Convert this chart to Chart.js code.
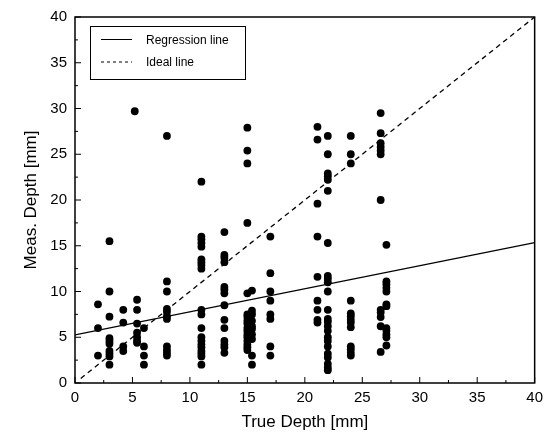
<!DOCTYPE html>
<html>
<head>
<meta charset="utf-8">
<script src="https://cdn.jsdelivr.net/npm/chart.js@4/dist/chart.umd.min.js"></script>
<style>
  html, body { margin: 0; padding: 0; background: #fff; }
  #wrap { width: 549px; height: 440px; }
</style>
</head>
<body>
<div id="wrap"><canvas id="c" width="549" height="440"></canvas></div>
<script>
// ---- Data ----
const xAxisTitle = "True Depth [mm]";
const yAxisTitle = "Meas. Depth [mm]";
const axisTicks = [0, 5, 10, 15, 20, 25, 30, 35, 40];

// True depth of each measurement column
const trueDepthColumns = [2, 3, 4.2, 5.2, 5.4, 6, 8, 11, 13, 15, 15.4, 17, 21.1, 22, 24, 26.6, 27.1];
// Measured depths for each column (same order)
const measuredDepthColumns = [
  [8.6, 6.0, 3.0],
  [15.5, 10.0, 7.25, 4.9, 4.6, 4.3, 3.5, 3.2, 2.9, 2.0],
  [8.0, 6.6, 4.0, 3.5],
  [29.7],
  [9.1, 8.0, 6.5, 5.5, 5.0, 4.6, 4.4],
  [6.0, 4.0, 3.0, 2.0],
  [27.0, 11.1, 10.0, 8.1, 7.8, 7.3, 7.0, 4.0, 3.6, 3.3, 3.0],
  [22.0, 16.0, 15.7, 15.3, 14.9, 13.5, 13.2, 12.9, 12.5, 8.0, 7.5, 6.0, 5.0, 4.6, 4.2, 3.9, 3.5, 3.2, 2.9, 2.0],
  [16.5, 14.0, 13.7, 13.2, 10.5, 10.2, 9.8, 8.5, 6.9, 6.0, 4.6, 4.2, 3.9, 3.3],
  [27.9, 25.4, 24.0, 17.5, 9.8, 7.5, 7.2, 6.8, 6.5, 6.0, 5.7, 5.3, 5.0, 4.6, 4.2, 3.9, 3.6],
  [10.1, 7.9, 7.5, 6.8, 6.2, 5.9, 5.3, 4.8, 3.0, 2.0],
  [16.0, 12.0, 10.0, 9.0, 7.5, 7.0, 4.0, 3.0],
  [28.0, 26.6, 19.6, 16.0, 11.6, 9.0, 8.0, 6.9, 6.6],
  [27.0, 25.0, 22.9, 22.6, 22.2, 21.0, 15.3, 11.7, 11.4, 11.0, 10.0, 8.0, 7.0, 6.7, 6.2, 5.7, 5.0, 4.6, 4.0, 3.2, 2.8, 2.1, 1.7, 1.4],
  [27.0, 25.0, 24.0, 9.0, 7.6, 7.3, 6.9, 6.6, 6.1, 4.0, 3.7, 3.3, 3.0],
  [29.5, 27.3, 26.2, 25.8, 25.4, 25.0, 20.0, 8.0, 7.7, 7.2, 6.2, 3.4],
  [15.1, 11.1, 10.8, 10.4, 10.0, 8.6, 8.4, 6.0, 5.7, 5.3, 5.0, 4.1]
];

// Line end points (x, y)
const regressionX = [0, 40];
const regressionY = [5.25, 15.35];
const idealX = [0.5, 40];
const idealY = [0.5, 40];

const legendLabels = ["Regression line", "Ideal line"];

// ---- Build library data ----
const scatterPoints = [];
trueDepthColumns.forEach((x, i) => {
  measuredDepthColumns[i].forEach(y => scatterPoints.push({ x: x, y: y }));
});
const regressionPoints = regressionX.map((x, i) => ({ x: x, y: regressionY[i] }));
const idealPoints = idealX.map((x, i) => ({ x: x, y: idealY[i] }));

const FONT = "'Liberation Sans', Arial, Helvetica, sans-serif";

// Frame, inward tick marks and boxed legend
const framePlugin = {
  id: 'frame',
  afterDraw(chart) {
    const { ctx, chartArea: a, scales } = chart;
    const xs = scales.x, ys = scales.y;
    ctx.save();
    ctx.strokeStyle = '#000';
    ctx.lineWidth = 1.5;
    ctx.strokeRect(a.left, a.top, a.right - a.left, a.bottom - a.top);
    ctx.lineWidth = 1;
    // ticks (major every 5, minor every 2.5), pointing inward
    for (let v = 0; v <= 40; v += 2.5) {
      const major = (v % 5 === 0);
      const len = major ? 6 : 3;
      const px = xs.getPixelForValue(v);
      ctx.beginPath();
      ctx.moveTo(px, a.bottom);
      ctx.lineTo(px, a.bottom - len);
      ctx.stroke();
      const py = ys.getPixelForValue(v);
      ctx.beginPath();
      ctx.moveTo(a.left, py);
      ctx.lineTo(a.left + len, py);
      ctx.stroke();
    }
    // legend box
    const bx = a.left + 15, by = a.top + 9, bw = 155, bh = 53;
    ctx.fillStyle = '#fff';
    ctx.fillRect(bx, by, bw, bh);
    ctx.lineWidth = 1;
    ctx.strokeRect(bx + 0.5, by + 0.5, bw, bh);
    ctx.font = '12px ' + FONT;
    ctx.fillStyle = '#000';
    ctx.textBaseline = 'middle';
    ctx.textAlign = 'left';
    const rows = [by + 13.5, by + 36];
    const dashes = [[], [3, 3]];
    rows.forEach((ry, i) => {
      ctx.beginPath();
      ctx.setLineDash(dashes[i]);
      ctx.moveTo(bx + 11, ry);
      ctx.lineTo(bx + 42, ry);
      ctx.stroke();
      ctx.setLineDash([]);
      ctx.fillText(legendLabels[i], bx + 56, ry + 1);
    });
    ctx.restore();
  }
};

new Chart(document.getElementById('c'), {
  type: 'scatter',
  data: {
    datasets: [
      {
        type: 'line',
        label: legendLabels[0],
        data: regressionPoints,
        borderColor: '#000',
        borderWidth: 1.2,
        pointRadius: 0,
        fill: false,
        order: 2
      },
      {
        type: 'line',
        label: legendLabels[1],
        data: idealPoints,
        borderColor: '#000',
        borderWidth: 1.3,
        borderDash: [5, 4],
        pointRadius: 0,
        fill: false,
        order: 2
      },
      {
        label: 'Measurements',
        data: scatterPoints,
        backgroundColor: '#000',
        borderColor: '#000',
        borderWidth: 0,
        pointRadius: 3.9,
        order: 1
      }
    ]
  },
  options: {
    responsive: false,
    animation: false,
    devicePixelRatio: 1,
    layout: { padding: { left: 0, right: 12, top: 15, bottom: 0 } },
    plugins: { legend: { display: false }, tooltip: { enabled: false } },
    scales: {
      x: {
        type: 'linear',
        min: 0, max: 40,
        afterBuildTicks(scale) { scale.ticks = axisTicks.map(v => ({ value: v })); },
        afterFit(scale) { scale.height = 57; },
        grid: { display: false, drawTicks: false },
        border: { display: false },
        ticks: { color: '#000', font: { size: 15, family: FONT }, padding: 6, maxRotation: 0 },
        title: { display: true, text: xAxisTitle, color: '#000', font: { size: 17, family: FONT }, padding: { top: 0, bottom: 7 } }
      },
      y: {
        type: 'linear',
        min: 0, max: 40,
        afterBuildTicks(scale) { scale.ticks = axisTicks.map(v => ({ value: v })); },
        afterFit(scale) { scale.width = 75; },
        grid: { display: false, drawTicks: false },
        border: { display: false },
        ticks: { color: '#000', font: { size: 15, family: FONT }, padding: 8 },
        title: { display: true, text: yAxisTitle, color: '#000', font: { size: 17, family: FONT }, padding: { top: 21, bottom: 0 } }
      }
    }
  },
  plugins: [framePlugin]
});
</script>
</body>
</html>
